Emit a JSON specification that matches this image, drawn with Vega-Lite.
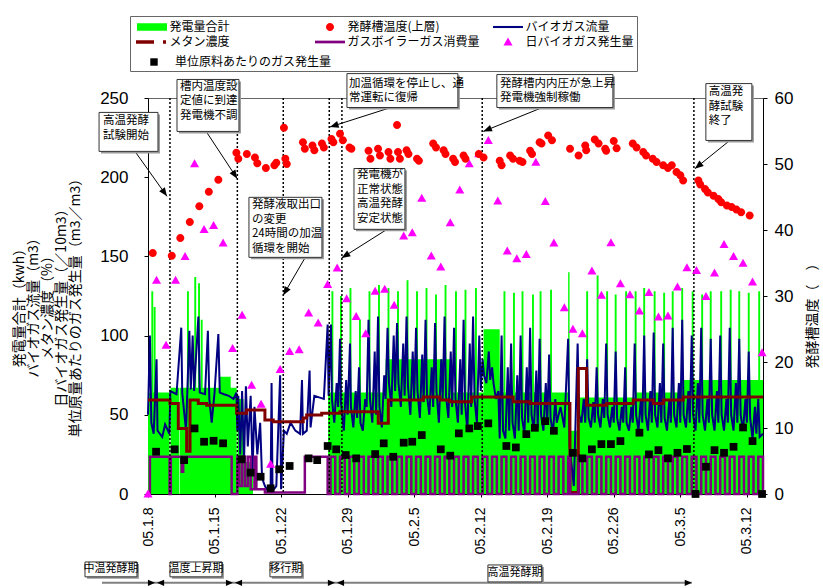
{
 "$schema": "https://vega.github.io/schema/vega-lite/v6.json",
 "width": 615, "height": 396,
 "autosize": {"type": "none"},
 "padding": {"left": 148, "top": 98, "right": 60, "bottom": 94},
 "background": "white",
 "config": {
  "view": {"stroke": "#666", "strokeWidth": 1},
  "axis": {"labelFont": "Liberation Sans", "labelColor": "#000", "domainColor": "#000", "tickColor": "#000", "grid": false, "titleFont": "Noto Sans CJK JP", "titleFontWeight": "normal", "titleColor": "#000", "labelFlush": false, "labelOverlap": false},
  "text": {"font": "Noto Sans CJK JP"}
 },
 "datasets": {
  "green": [{"d":0,"v":64},{"d":0.35,"v":128},{"d":0.55,"v":64},{"d":0.6,"v":118},{"d":0.8,"v":64},{"d":2.27,"v":0},{"d":2.37,"v":67},{"d":3.27,"v":0},{"d":3.33,"v":67},{"d":4.1,"v":128},{"d":4.3,"v":67},{"d":4.87,"v":137},{"d":5.07,"v":67},{"d":5.27,"v":133},{"d":5.47,"v":67},{"d":5.55,"v":110},{"d":5.75,"v":67},{"d":7.5,"v":74},{"d":8.7,"v":67},{"d":9.33,"v":0},{"d":9.42,"v":60},{"d":10.05,"v":20},{"d":11.05,"v":0},{"d":18.95,"v":64},
   {"d":19.3,"v":128},{"d":19.5,"v":64},{"d":20.2,"v":125},{"d":20.4,"v":64},{"d":21.2,"v":130},{"d":21.4,"v":64},{"d":22.2,"v":110},{"d":22.4,"v":64},{"d":23.2,"v":128},{"d":23.4,"v":64},{"d":24.2,"v":132},{"d":24.4,"v":64},{"d":25.0,"v":85},{"d":25.2,"v":130},{"d":25.4,"v":85},{"d":26.2,"v":128},{"d":26.4,"v":85},{"d":27.2,"v":135},{"d":27.4,"v":85},{"d":28.2,"v":128},{"d":28.4,"v":85},{"d":29.2,"v":130},{"d":29.4,"v":85},{"d":30.2,"v":126},{"d":30.4,"v":85},{"d":31.2,"v":132},{"d":31.4,"v":85},{"d":32.0,"v":64},{"d":32.3,"v":128},{"d":32.5,"v":64},{"d":33.3,"v":129},{"d":33.5,"v":64},{"d":34.4,"v":130},{"d":34.6,"v":64},{"d":35.3,"v":104},{"d":37.0,"v":64},{"d":37.4,"v":128},{"d":37.6,"v":64},{"d":38.4,"v":127},{"d":38.6,"v":64},{"d":39.3,"v":128},{"d":39.5,"v":64},{"d":40.4,"v":126},{"d":40.6,"v":64},{"d":41.2,"v":128},{"d":41.4,"v":64},{"d":42.3,"v":129},{"d":42.5,"v":64},{"d":44.2,"v":140},{"d":44.35,"v":40},{"d":45.3,"v":61},{"d":46.1,"v":128},{"d":46.3,"v":61},{"d":47.2,"v":138},{"d":47.4,"v":61},{"d":48.2,"v":128},{"d":48.4,"v":61},{"d":49.1,"v":126},{"d":49.3,"v":61},{"d":50.2,"v":128},{"d":50.4,"v":61},{"d":51.2,"v":128},{"d":51.4,"v":64},{"d":52.1,"v":130},{"d":52.3,"v":64},{"d":53.2,"v":128},{"d":53.4,"v":64},{"d":54.2,"v":127},{"d":54.4,"v":64},{"d":55.1,"v":128},{"d":55.3,"v":64},{"d":56.1,"v":130},{"d":56.3,"v":72},{"d":57.2,"v":128},{"d":57.4,"v":72},{"d":58.2,"v":126},{"d":58.4,"v":72},{"d":59.1,"v":128},{"d":59.3,"v":72},{"d":60.2,"v":128},{"d":60.4,"v":72},{"d":61.2,"v":129},{"d":61.4,"v":72},{"d":62.1,"v":128},{"d":62.3,"v":72},{"d":63.1,"v":127},{"d":63.3,"v":72},{"d":64.2,"v":128},{"d":64.4,"v":72},{"d":64.7,"v":72}],
  "navy": [{"d":0,"v":50},{"d":0.2,"v":100},{"d":0.35,"v":45},{"d":0.6,"v":38},{"d":0.9,"v":85},{"d":1.0,"v":40},{"d":1.5,"v":36},{"d":1.8,"v":44},{"d":2.25,"v":38},{"d":2.35,"v":65},{"d":3.0,"v":63},{"d":3.5,"v":105},{"d":3.6,"v":64},{"d":4.0,"v":40},{"d":4.35,"v":103},{"d":4.5,"v":66},{"d":4.7,"v":100},{"d":4.85,"v":65},{"d":5.3,"v":112},{"d":5.45,"v":64},{"d":6.0,"v":63},{"d":6.3,"v":103},{"d":6.45,"v":60},{"d":6.7,"v":45},{"d":7.0,"v":64},{"d":7.4,"v":101},{"d":7.55,"v":64},{"d":8.0,"v":63},{"d":8.5,"v":62},{"d":9.0,"v":60},{"d":9.3,"v":64},{"d":9.4,"v":40},{"d":9.5,"v":62},{"d":9.7,"v":25},{"d":9.9,"v":65},{"d":10.1,"v":20},{"d":10.3,"v":68},{"d":10.5,"v":30},{"d":10.8,"v":62},{"d":11.0,"v":15},{"d":11.2,"v":55},{"d":11.5,"v":25},{"d":11.8,"v":45},{"d":12.0,"v":10},{"d":12.3,"v":5},{"d":12.6,"v":2},{"d":12.9,"v":3},{"d":13.0,"v":70},{"d":13.1,"v":2},{"d":13.5,"v":5},{"d":13.9,"v":75},{"d":14.0,"v":3},{"d":14.3,"v":40},{"d":14.6,"v":38},{"d":15.0,"v":45},{"d":15.5,"v":40},{"d":16.0,"v":38},{"d":16.2,"v":72},{"d":16.3,"v":38},{"d":16.7,"v":40},{"d":17.0,"v":78},{"d":17.1,"v":42},{"d":17.5,"v":62},{"d":18.0,"v":61},{"d":18.5,"v":60},{"d":18.9,"v":107},{"d":19.0,"v":62},
   {"d":19.25,"v":107},{"d":19.35,"v":60},{"d":19.6,"v":45},{"d":19.85,"v":70},{"d":20.0,"v":55},{"d":20.2,"v":98},{"d":20.3,"v":58},{"d":20.6,"v":40},{"d":20.85,"v":72},{"d":21.0,"v":50},{"d":21.25,"v":95},{"d":21.35,"v":55},{"d":21.6,"v":42},{"d":21.85,"v":65},{"d":22.0,"v":48},{"d":22.2,"v":80},{"d":22.35,"v":45},{"d":22.6,"v":40},{"d":22.85,"v":60},{"d":23.0,"v":55},{"d":23.2,"v":110},{"d":23.35,"v":60},{"d":23.6,"v":45},{"d":23.85,"v":90},{"d":24.0,"v":50},{"d":24.2,"v":112},{"d":24.35,"v":55},{"d":24.6,"v":42},{"d":24.85,"v":75},{"d":25.0,"v":60},{"d":25.2,"v":105},{"d":25.35,"v":70},{"d":25.6,"v":55},{"d":25.85,"v":100},{"d":26.0,"v":65},{"d":26.2,"v":108},{"d":26.35,"v":70},{"d":26.6,"v":55},{"d":26.85,"v":95},{"d":27.0,"v":62},{"d":27.2,"v":112},{"d":27.35,"v":68},{"d":27.6,"v":50},{"d":27.85,"v":90},{"d":28.0,"v":60},{"d":28.2,"v":105},{"d":28.35,"v":65},{"d":28.6,"v":48},{"d":28.85,"v":88},{"d":29.0,"v":58},{"d":29.2,"v":110},{"d":29.35,"v":62},{"d":29.6,"v":50},{"d":29.85,"v":80},{"d":30.0,"v":55},{"d":30.2,"v":108},{"d":30.35,"v":65},{"d":30.6,"v":45},{"d":30.85,"v":85},{"d":31.0,"v":60},{"d":31.2,"v":112},{"d":31.35,"v":62},{"d":31.6,"v":48},{"d":31.85,"v":90},{"d":32.0,"v":55},{"d":32.2,"v":105},{"d":32.35,"v":60},{"d":32.6,"v":45},{"d":32.85,"v":85},{"d":33.0,"v":50},{"d":33.2,"v":110},{"d":33.35,"v":58},{"d":33.6,"v":40},{"d":33.85,"v":95},{"d":34.0,"v":55},{"d":34.2,"v":112},{"d":34.35,"v":60},{"d":34.6,"v":45},{"d":34.85,"v":100},{"d":35.0,"v":65},{"d":35.2,"v":85},{"d":35.35,"v":75},{"d":35.6,"v":70},{"d":35.85,"v":90},{"d":36.0,"v":72},{"d":36.2,"v":80},{"d":36.35,"v":70},{"d":36.6,"v":60},{"d":36.85,"v":65},{"d":37.0,"v":35},{"d":37.2,"v":100},{"d":37.35,"v":40},{"d":37.6,"v":35},{"d":37.85,"v":80},{"d":38.0,"v":40},{"d":38.2,"v":95},{"d":38.35,"v":45},{"d":38.6,"v":35},{"d":38.85,"v":75},{"d":39.0,"v":40},{"d":39.2,"v":100},{"d":39.35,"v":48},{"d":39.6,"v":38},{"d":39.85,"v":80},{"d":40.0,"v":45},{"d":40.2,"v":105},{"d":40.35,"v":50},{"d":40.6,"v":40},{"d":40.85,"v":78},{"d":41.0,"v":42},{"d":41.2,"v":98},{"d":41.35,"v":50},{"d":41.6,"v":40},{"d":41.85,"v":70},{"d":42.0,"v":45},{"d":42.2,"v":88},{"d":42.35,"v":48},{"d":42.6,"v":38},{"d":42.85,"v":60},{"d":43.0,"v":45},{"d":43.4,"v":55},{"d":43.8,"v":42},{"d":44.2,"v":98},{"d":44.35,"v":30},{"d":44.8,"v":5},{"d":45.2,"v":95},{"d":45.35,"v":50},{"d":45.6,"v":45},{"d":45.85,"v":60},{"d":46.0,"v":45},{"d":46.2,"v":85},{"d":46.35,"v":48},{"d":46.6,"v":42},{"d":46.85,"v":58},{"d":47.0,"v":45},{"d":47.2,"v":80},{"d":47.35,"v":50},{"d":47.6,"v":42},{"d":47.85,"v":60},{"d":48.0,"v":48},{"d":48.2,"v":95},{"d":48.35,"v":50},{"d":48.6,"v":42},{"d":48.85,"v":55},{"d":49.0,"v":45},{"d":49.2,"v":90},{"d":49.35,"v":48},{"d":49.6,"v":40},{"d":49.85,"v":55},{"d":50.0,"v":45},{"d":50.2,"v":80},{"d":50.35,"v":45},{"d":50.6,"v":40},{"d":50.85,"v":55},{"d":51.0,"v":45},{"d":51.2,"v":95},{"d":51.35,"v":50},{"d":51.6,"v":40},{"d":51.85,"v":60},{"d":52.0,"v":45},{"d":52.2,"v":100},{"d":52.35,"v":50},{"d":52.6,"v":40},{"d":52.85,"v":65},{"d":53.0,"v":45},{"d":53.2,"v":102},{"d":53.35,"v":50},{"d":53.6,"v":42},{"d":53.85,"v":70},{"d":54.0,"v":45},{"d":54.2,"v":95},{"d":54.35,"v":48},{"d":54.6,"v":40},{"d":54.85,"v":60},{"d":55.0,"v":45},{"d":55.2,"v":105},{"d":55.35,"v":50},{"d":55.6,"v":42},{"d":55.85,"v":70},{"d":56.0,"v":45},{"d":56.2,"v":110},{"d":56.35,"v":50},{"d":56.6,"v":42},{"d":56.85,"v":65},{"d":57.0,"v":45},{"d":57.2,"v":100},{"d":57.35,"v":50},{"d":57.6,"v":40},{"d":57.85,"v":70},{"d":58.0,"v":45},{"d":58.2,"v":105},{"d":58.35,"v":50},{"d":58.6,"v":40},{"d":58.85,"v":60},{"d":59.0,"v":45},{"d":59.2,"v":98},{"d":59.35,"v":50},{"d":59.6,"v":40},{"d":59.85,"v":65},{"d":60.0,"v":45},{"d":60.2,"v":100},{"d":60.35,"v":50},{"d":60.6,"v":40},{"d":60.85,"v":60},{"d":61.0,"v":45},{"d":61.2,"v":105},{"d":61.35,"v":50},{"d":61.6,"v":40},{"d":61.85,"v":70},{"d":62.0,"v":45},{"d":62.2,"v":98},{"d":62.35,"v":50},{"d":62.6,"v":40},{"d":62.85,"v":60},{"d":63.0,"v":45},{"d":63.2,"v":90},{"d":63.35,"v":48},{"d":63.6,"v":35},{"d":63.85,"v":55},{"d":64.0,"v":38},{"d":64.2,"v":60},{"d":64.35,"v":36},{"d":64.7,"v":38}],
  "meth": [{"d":0,"v":59.3},{"d":2.31,"v":57.2},{"d":3.19,"v":41.4},{"d":4.07,"v":27},{"d":4.42,"v":59.3},{"d":5.29,"v":57.2},{"d":6.17,"v":56.1},{"d":9.33,"v":50.9},{"d":10.38,"v":53},{"d":12.3,"v":46.7},{"d":13.18,"v":45.6},{"d":16.33,"v":48},{"d":16.69,"v":49.8},{"d":18.27,"v":50.9},{"d":20.19,"v":51.9},{"d":24.22,"v":44.6},{"d":25.28,"v":59.3},{"d":28.96,"v":61.3},{"d":30.71,"v":59.3},{"d":31.76,"v":58.2},{"d":34.04,"v":61.3},{"d":38.42,"v":58.2},{"d":40.18,"v":57.2},{"d":44.39,"v":1},{"d":45.27,"v":79.2},{"d":46.14,"v":56.1},{"d":48.25,"v":57.2},{"d":51.05,"v":59.3},{"d":53.16,"v":57.2},{"d":54.21,"v":59.3},{"d":56.31,"v":61.3},{"d":64.7,"v":61.3}],
  "purp": [{"d":0,"v":0},{"d":0.2,"v":23.5},{"d":2.27,"v":0},{"d":2.4,"v":23.5},{"d":3.55,"v":14},{"d":3.7,"v":23.5},{"d":8.8,"v":0},{"d":9.4,"v":23.5},{"d":9.6,"v":5},{"d":9.9,"v":23.5},{"d":10.2,"v":5},{"d":10.5,"v":23.5},{"d":10.8,"v":3},{"d":11.2,"v":23.5},{"d":11.4,"v":3},{"d":12.3,"v":1},{"d":16.5,"v":23.5},{"d":18.9,"v":0},{"d":19.2,"v":23.5},{"d":19.7,"v":0},{"d":20.2,"v":23.5},{"d":20.7,"v":0},{"d":21.2,"v":23.5},{"d":21.7,"v":0},{"d":22.2,"v":23.5},{"d":22.7,"v":0},{"d":23.2,"v":23.5},{"d":23.7,"v":0},{"d":24.2,"v":23.5},{"d":24.7,"v":0},{"d":25.2,"v":23.5},{"d":25.7,"v":0},{"d":26.2,"v":23.5},{"d":26.7,"v":0},{"d":27.2,"v":23.5},{"d":27.7,"v":0},{"d":28.2,"v":23.5},{"d":28.7,"v":0},{"d":29.2,"v":23.5},{"d":29.7,"v":0},{"d":30.2,"v":23.5},{"d":30.7,"v":0},{"d":31.2,"v":23.5},{"d":31.7,"v":0},{"d":32.2,"v":23.5},{"d":32.7,"v":0},{"d":33.2,"v":23.5},{"d":33.7,"v":0},{"d":34.2,"v":23.5},{"d":34.7,"v":0},{"d":35.2,"v":23.5},{"d":35.7,"v":0},{"d":36.2,"v":23.5},{"d":36.7,"v":0},{"d":37.2,"v":23.5},{"d":37.7,"v":0},{"d":38.2,"v":23.5},{"d":38.7,"v":0},{"d":39.2,"v":23.5},{"d":39.7,"v":0},{"d":40.2,"v":23.5},{"d":40.7,"v":0},{"d":41.2,"v":23.5},{"d":41.7,"v":0},{"d":42.2,"v":23.5},{"d":42.7,"v":0},{"d":43.2,"v":23.5},{"d":43.7,"v":0},{"d":44.2,"v":23.5},{"d":44.4,"v":0},{"d":45.3,"v":23.5},{"d":45.7,"v":0},{"d":46.2,"v":23.5},{"d":46.7,"v":0},{"d":47.2,"v":23.5},{"d":47.7,"v":0},{"d":48.2,"v":23.5},{"d":48.7,"v":0},{"d":49.2,"v":23.5},{"d":49.7,"v":0},{"d":50.2,"v":23.5},{"d":50.7,"v":0},{"d":51.2,"v":23.5},{"d":51.7,"v":0},{"d":52.2,"v":23.5},{"d":52.7,"v":0},{"d":53.2,"v":23.5},{"d":53.7,"v":0},{"d":54.2,"v":23.5},{"d":54.7,"v":0},{"d":55.2,"v":23.5},{"d":55.7,"v":0},{"d":56.2,"v":23.5},{"d":56.7,"v":0},{"d":57.2,"v":23.5},{"d":57.7,"v":0},{"d":58.2,"v":23.5},{"d":58.7,"v":0},{"d":59.2,"v":23.5},{"d":59.7,"v":0},{"d":60.2,"v":23.5},{"d":60.7,"v":0},{"d":61.2,"v":23.5},{"d":61.7,"v":0},{"d":62.2,"v":23.5},{"d":62.7,"v":0},{"d":63.2,"v":23.5},{"d":63.7,"v":0},{"d":64.2,"v":23.5},{"d":64.7,"v":0}],
  "temp": [{"d":0.5,"v":36.5},{"d":2.5,"v":36.1},{"d":3.4,"v":38.8},{"d":4.4,"v":41.2},{"d":5.4,"v":43.6},{"d":6.4,"v":45.8},{"d":7.4,"v":47.6},{"d":9.3,"v":51.7},{"d":9.5,"v":50.8},{"d":10.4,"v":51.5},{"d":11.25,"v":51},{"d":11.5,"v":50.1},{"d":12.4,"v":49.4},{"d":13.3,"v":49.8},{"d":13.5,"v":50.2},{"d":14.3,"v":55.5},{"d":14.45,"v":50.8},{"d":14.6,"v":50},{"d":16.3,"v":53.3},{"d":16.5,"v":52.3},{"d":17.3,"v":52.8},{"d":17.5,"v":52.1},{"d":18.3,"v":53.1},{"d":18.5,"v":52.5},{"d":19.3,"v":53.8},{"d":19.5,"v":53.3},{"d":20.2,"v":54.6},{"d":20.5,"v":53.6},{"d":21.2,"v":52.5},{"d":21.4,"v":52.3},{"d":23.2,"v":52},{"d":23.4,"v":50.8},{"d":24.2,"v":52.3},{"d":24.4,"v":51.3},{"d":25.3,"v":51.8},{"d":25.5,"v":50.8},{"d":26.2,"v":55.9},{"d":26.3,"v":51.8},{"d":26.5,"v":50.8},{"d":27.2,"v":52.1},{"d":27.4,"v":51.5},{"d":28.3,"v":50.8},{"d":28.5,"v":50.5},{"d":30.0,"v":53.1},{"d":30.3,"v":52.5},{"d":31.1,"v":52.1},{"d":31.3,"v":51.5},{"d":32.1,"v":50.8},{"d":32.3,"v":50.3},{"d":33.2,"v":51.3},{"d":33.4,"v":50.8},{"d":34.8,"v":51.5},{"d":35.3,"v":51},{"d":37.0,"v":50.5},{"d":37.2,"v":49.8},{"d":38.1,"v":51.3},{"d":38.4,"v":50.8},{"d":39.1,"v":50.5},{"d":39.4,"v":50.3},{"d":40.2,"v":52},{"d":40.4,"v":51.5},{"d":41.2,"v":53.3},{"d":41.4,"v":53.1},{"d":42.1,"v":54.3},{"d":42.5,"v":53.6},{"d":44.4,"v":52.3},{"d":45.3,"v":51.3},{"d":46.0,"v":52.8},{"d":46.1,"v":52.1},{"d":47.0,"v":53.7},{"d":47.4,"v":53.1},{"d":48.1,"v":52.3},{"d":48.2,"v":52},{"d":49.0,"v":53.5},{"d":49.3,"v":52.4},{"d":51.0,"v":53.1},{"d":51.4,"v":52.5},{"d":52.1,"v":51.8},{"d":52.4,"v":51.3},{"d":53.1,"v":50.8},{"d":53.5,"v":50.3},{"d":54.2,"v":49.8},{"d":54.7,"v":49.4},{"d":55.1,"v":49.8},{"d":55.6,"v":48.8},{"d":56.0,"v":48.3},{"d":56.3,"v":47.5},{"d":57.9,"v":47.5},{"d":58.1,"v":46.9},{"d":58.6,"v":46.2},{"d":58.9,"v":45.7},{"d":59.5,"v":45.2},{"d":60.0,"v":44.7},{"d":60.3,"v":44.2},{"d":60.9,"v":43.7},{"d":61.4,"v":43.5},{"d":61.9,"v":43.1},{"d":62.4,"v":42.7},{"d":63.3,"v":42.2}],
  "tri": [{"d":0,"v":0},{"d":0.9,"v":135},{"d":1.9,"v":94},{"d":2.9,"v":135},{"d":3.9,"v":150},{"d":4.9,"v":208.5},{"d":5.9,"v":167},{"d":6.9,"v":169.6},{"d":7.9,"v":158.5},{"d":8.9,"v":91.9},{"d":9.9,"v":112.9},{"d":10.9,"v":68.7},{"d":11.9,"v":56.7},{"d":12.9,"v":18.9},{"d":13.9,"v":78.6},{"d":14.9,"v":90},{"d":15.9,"v":91.2},{"d":16.9,"v":114.3},{"d":17.9,"v":108},{"d":18.9,"v":132.4},{"d":19.9,"v":142.7},{"d":20.9,"v":123.4},{"d":21.9,"v":112.2},{"d":22.9,"v":101.3},{"d":23.9,"v":128},{"d":24.9,"v":129.3},{"d":25.9,"v":119.2},{"d":26.9,"v":162.9},{"d":27.8,"v":165},{"d":28.8,"v":186.8},{"d":29.8,"v":150.3},{"d":30.8,"v":143.3},{"d":31.8,"v":171.3},{"d":32.8,"v":192},{"d":33.8,"v":208.5},{"d":34.8,"v":214.8},{"d":35.8,"v":223.2},{"d":36.8,"v":185},{"d":37.8,"v":153.4},{"d":38.8,"v":148.6},{"d":39.8,"v":151.3},{"d":40.8,"v":209.5},{"d":41.8,"v":184.7},{"d":42.7,"v":158.5},{"d":43.8,"v":117.7},{"d":44.7,"v":104},{"d":45.7,"v":101.3},{"d":46.7,"v":140.8},{"d":47.7,"v":125.5},{"d":48.7,"v":158.7},{"d":49.7,"v":132.8},{"d":50.7,"v":125.9},{"d":51.7,"v":115.6},{"d":52.7,"v":127.2},{"d":53.7,"v":111.8},{"d":54.7,"v":112.4},{"d":55.7,"v":130.7},{"d":56.7,"v":142.9},{"d":57.7,"v":141.2},{"d":58.7,"v":124.8},{"d":59.6,"v":139.6},{"d":60.6,"v":157.6},{"d":61.6,"v":150},{"d":62.6,"v":145.8},{"d":63.6,"v":133.9},{"d":64.6,"v":89.3}],
  "sq": [{"d":0.85,"v":26.7},{"d":2.8,"v":28.2},{"d":3.8,"v":21.4},{"d":4.9,"v":41.4},{"d":5.9,"v":33},{"d":6.9,"v":33.6},{"d":7.9,"v":32},{"d":9.85,"v":21.9},{"d":10.8,"v":13.5},{"d":11.85,"v":10.9},{"d":12.9,"v":3.6},{"d":13.8,"v":15.6},{"d":14.9,"v":17.7},{"d":16.9,"v":22.5},{"d":17.8,"v":21.4},{"d":18.9,"v":30.3},{"d":19.8,"v":28.2},{"d":20.8,"v":24.6},{"d":21.9,"v":22.5},{"d":23.9,"v":25.2},{"d":24.8,"v":32},{"d":25.8,"v":23.5},{"d":26.9,"v":32.4},{"d":27.8,"v":33},{"d":28.8,"v":37.2},{"d":30.8,"v":28.2},{"d":31.8,"v":24.2},{"d":32.7,"v":38.3},{"d":33.8,"v":41.4},{"d":34.7,"v":42.9},{"d":35.8,"v":44.6},{"d":37.7,"v":30.3},{"d":38.7,"v":29.4},{"d":39.8,"v":37.8},{"d":40.7,"v":41.8},{"d":41.8,"v":46},{"d":42.7,"v":39.9},{"d":44.7,"v":26},{"d":45.7,"v":22.5},{"d":46.7,"v":28.2},{"d":47.7,"v":31.5},{"d":48.7,"v":31.5},{"d":49.7,"v":33.4},{"d":51.7,"v":38.7},{"d":52.7,"v":25},{"d":53.7,"v":27.7},{"d":54.7,"v":22.5},{"d":55.7,"v":26},{"d":56.7,"v":28.4},{"d":57.6,"v":0},{"d":58.7,"v":17.2},{"d":59.6,"v":27.7},{"d":60.6,"v":26},{"d":61.6,"v":29.8},{"d":62.6,"v":42},{"d":63.6,"v":33.4},{"d":64.6,"v":0}],
  "vlines": [{"d":2.31},{"d":9.4},{"d":14.23},{"d":19.07},{"d":20.4},{"d":35.16},{"d":57.43}],
  "boxes": [{"x1":-5.15,"x2":1.05,"y1":240.9,"y2":216.3},{"x1":3.05,"x2":9.57,"y1":261.7,"y2":228.9},{"x1":10.62,"x2":18.3,"y1":187.3,"y2":149.4},{"x1":20.93,"x2":32.6,"y1":265.4,"y2":244},{"x1":21.67,"x2":27.03,"y1":205.5,"y2":167.1},{"x1":36.7,"x2":48.91,"y1":264.8,"y2":244},{"x1":58.69,"x2":63.53,"y1":259.1,"y2":223.2}],
  "texts": [{"d":-4.73,"v":239,"t":"高温発酵\n試験開始"},{"d":3.37,"v":261,"t":"槽内温度設\n定値に到達\n発電機不調"},{"d":10.94,"v":186,"t":"発酵液取出口\nの変更\n24時間の加温\n循環を開始"},{"d":21.14,"v":262.9,"t":"加温循環を停止し、通\n常運転に復帰"},{"d":21.98,"v":204.9,"t":"発電機が\n正常状態\n高温発酵\n安定状態"},{"d":37.02,"v":262.9,"t":"発酵槽内内圧が急上昇\n発電機強制稼働"},{"d":59.0,"v":257.3,"t":"高温発\n酵試験\n終了"}],
  "arrows": [{"d1":-1.37,"v1":216.3,"d2":2.0,"v2":187.9,"a":144.6},{"d1":6.17,"v1":228.4,"d2":9.39,"v2":199.1,"a":146.7},{"d1":16.51,"v1":149,"d2":14.23,"v2":125.5,"a":210.2},{"d1":25.45,"v1":243.8,"d2":19.14,"v2":231.7,"a":252.4},{"d1":25.1,"v1":166.9,"d2":20.37,"v2":149,"a":237.7},{"d1":41.41,"v1":243.8,"d2":35.27,"v2":228.9,"a":247.9},{"d1":61.21,"v1":223.2,"d2":57.53,"v2":205.4,"a":231.1}],
  "pline": [{"d1":-4.84,"d2":57.21,"v":-56.1}],
  "pheads": [{"d":0.74,"v":-56.1,"a":90},{"d":0.95,"v":-56.1,"a":270},{"d":8.94,"v":-56.1,"a":90},{"d":9.15,"v":-56.1,"a":270},{"d":19.67,"v":-56.1,"a":90},{"d":19.88,"v":-56.1,"a":270},{"d":57.21,"v":-56.1,"a":90}],
  "pboxes": [{"x1":-6.63,"x2":-1.16,"y1":-42.9,"y2":-52.3,"xc":-3.9,"yc":-47.6,"t":"中温発酵期"},{"x1":2.31,"x2":7.78,"y1":-42.9,"y2":-52.3,"xc":5.05,"yc":-47.6,"t":"温度上昇期"},{"x1":12.83,"x2":16.2,"y1":-42.9,"y2":-52.3,"xc":14.5,"yc":-47.6,"t":"移行期"},{"x1":35.76,"x2":41.44,"y1":-44.8,"y2":-55.5,"xc":38.6,"yc":-50.1,"t":"高温発酵期"}]
 },
 "layer": [
  {
   "layer": [
    {"data": {"name": "green"}, "mark": {"type": "area", "opacity": 1, "interpolate": "step-after"},
     "encoding": {
      "x": {"field": "d", "type": "quantitative", "scale": {"domain": [0, 64.7], "nice": false, "zero": false},
          "axis": {"values": [0,7,14,21,28,35,42,49,56,63], "labelExpr": "['05.1.8','05.1.15','05.1.22','05.1.29','05.2.5','05.2.12','05.2.19','05.2.26','05.3.5','05.3.12'][round(datum.value/7)]", "labelAngle": 270, "labelFontSize": 14, "tickSize": 3, "labelPadding": 10, "title": null}},
      "y": {"field": "v", "type": "quantitative", "scale": {"domain": [0, 250], "nice": false, "zero": false},
          "axis": {"values": [0,50,100,150,200,250], "labelFontSize": 17, "tickSize": 4, "labelPadding": 16,
                   "title": ["発電量合計（kwh）", "バイオガス流量（m3）", "メタン濃度（%）", "日バイオガス発生量（／10m3）", "単位原量あたりのガス発生量（m3／m3）"],
                   "titleFontSize": 14, "titleLineHeight": 14, "titleAngle": 270, "titleX": -129, "titleY": 206, "titleAlign": "center", "titleBaseline": "middle"}},
      "color": {"datum": "発電量合計", "type": "nominal",
       "scale": {"domain": ["発電量合計","発酵槽温度(上層)","バイオガス流量","メタン濃度","ガスボイラーガス消費量","日バイオガス発生量"], "range": ["#00ff00","#ff0000","#000080","#800000","#800080","#ff00ff"]},
       "legend": {"title": "　　　　　　　　　　　　　　　　　　　　　　　　　　　　　　　　　　　　　　　　　", "titleOrient": "bottom", "titleFontSize": 15, "titlePadding": 5, "titleLimit": 2000,
         "orient": "none", "legendX": -18, "legendY": -82, "direction": "horizontal", "columns": 3, "gridAlign": "all",
         "symbolSize": 256, "symbolStrokeWidth": 0, "symbolOpacity": 1,
         "labelFont": "Noto Sans CJK JP", "labelFontSize": 12, "labelColor": "#000", "labelOffset": 20.5, "labelLimit": 400,
         "columnPadding": 9, "rowPadding": 1, "padding": 3, "strokeColor": "#666", "fillColor": "white"}}}},
    {"data": {"name": "navy"}, "mark": {"type": "line", "strokeWidth": 2},
     "encoding": {"x": {"field": "d", "type": "quantitative", "scale": {"domain": [0, 64.7], "nice": false, "zero": false}}, "y": {"field": "v", "type": "quantitative", "scale": {"domain": [0, 250], "nice": false, "zero": false}},
      "color": {"datum": "バイオガス流量", "type": "nominal", "scale": {"domain": ["発電量合計","発酵槽温度(上層)","バイオガス流量","メタン濃度","ガスボイラーガス消費量","日バイオガス発生量"], "range": ["#00ff00","#ff0000","#000080","#800000","#800080","#ff00ff"]}}}},
    {"data": {"name": "meth"}, "mark": {"type": "line", "strokeWidth": 3, "interpolate": "step-after"},
     "encoding": {"x": {"field": "d", "type": "quantitative", "scale": {"domain": [0, 64.7], "nice": false, "zero": false}}, "y": {"field": "v", "type": "quantitative", "scale": {"domain": [0, 250], "nice": false, "zero": false}},
      "color": {"datum": "メタン濃度", "type": "nominal", "scale": {"domain": ["発電量合計","発酵槽温度(上層)","バイオガス流量","メタン濃度","ガスボイラーガス消費量","日バイオガス発生量"], "range": ["#00ff00","#ff0000","#000080","#800000","#800080","#ff00ff"]}}}},
    {"data": {"name": "purp"}, "mark": {"type": "line", "strokeWidth": 2.5, "interpolate": "step-after"},
     "encoding": {"x": {"field": "d", "type": "quantitative", "scale": {"domain": [0, 64.7], "nice": false, "zero": false}}, "y": {"field": "v", "type": "quantitative", "scale": {"domain": [0, 250], "nice": false, "zero": false}},
      "color": {"datum": "ガスボイラーガス消費量", "type": "nominal", "scale": {"domain": ["発電量合計","発酵槽温度(上層)","バイオガス流量","メタン濃度","ガスボイラーガス消費量","日バイオガス発生量"], "range": ["#00ff00","#ff0000","#000080","#800000","#800080","#ff00ff"]}}}},
    {"data": {"name": "vlines"}, "mark": {"type": "rule", "color": "#000", "strokeWidth": 1.5, "strokeDash": [2, 2]},
     "encoding": {"x": {"field": "d", "type": "quantitative", "scale": {"domain": [0, 64.7], "nice": false, "zero": false}}}},
    {"data": {"name": "sq"}, "mark": {"type": "point", "shape": "square", "filled": true, "size": 60, "opacity": 1},
     "encoding": {"x": {"field": "d", "type": "quantitative", "scale": {"domain": [0, 64.7], "nice": false, "zero": false}}, "y": {"field": "v", "type": "quantitative", "scale": {"domain": [0, 250], "nice": false, "zero": false}},
      "fill": {"datum": "単位原料あたりのガス発生量", "type": "nominal", "scale": {"range": ["#000000"]},
       "legend": {"title": null, "orient": "none", "legendX": 0, "legendY": -42, "symbolSize": 55, "symbolType": "square", "symbolOpacity": 1,
         "labelFont": "Noto Sans CJK JP", "labelFontSize": 12, "labelColor": "#000", "labelOffset": 15, "labelLimit": 400, "padding": 0}}}},
    {"data": {"name": "tri"}, "mark": {"type": "point", "filled": true, "size": 256, "opacity": 1, "xOffset": -11},
     "encoding": {"x": {"field": "d", "type": "quantitative", "scale": {"domain": [0, 64.7], "nice": false, "zero": false}}, "y": {"field": "v", "type": "quantitative", "scale": {"domain": [0, 250], "nice": false, "zero": false}},
      "color": {"datum": "日バイオガス発生量", "type": "nominal", "scale": {"domain": ["発電量合計","発酵槽温度(上層)","バイオガス流量","メタン濃度","ガスボイラーガス消費量","日バイオガス発生量"], "range": ["#00ff00","#ff0000","#000080","#800000","#800080","#ff00ff"]}},
      "shape": {"datum": "日バイオガス発生量", "type": "nominal", "scale": {"domain": ["発電量合計","発酵槽温度(上層)","バイオガス流量","メタン濃度","ガスボイラーガス消費量","日バイオガス発生量"], "range": ["M-0.5,-0.47H3.25V0.47H-0.5Z","M1.875,0A0.5,0.5,0,1,1,0.875,0A0.5,0.5,0,1,1,1.875,0Z","M-0.5,-0.13H3.25V0.13H-0.5Z","M-0.625,-0.22H1.625V0.22H-0.625ZM2.75,-0.22H3.125V0.22H2.75Z","M-0.5,-0.17H3.25V0.17H-0.5Z","M1.375,-0.55L1.94,0.45L0.81,0.45Z"]}}}},
    {"data": {"name": "arrows"}, "mark": {"type": "rule", "color": "#000", "strokeWidth": 1},
     "encoding": {"x": {"field": "d1", "type": "quantitative", "scale": {"domain": [0, 64.7], "nice": false, "zero": false}}, "x2": {"field": "d2"}, "y": {"field": "v1", "type": "quantitative", "scale": {"domain": [0, 250], "nice": false, "zero": false}}, "y2": {"field": "v2"}}},
    {"data": {"name": "arrows"}, "mark": {"type": "point", "shape": "M0,0L0.4,1L-0.4,1Z", "filled": true, "size": 300, "color": "#000", "opacity": 1},
     "encoding": {"x": {"field": "d2", "type": "quantitative", "scale": {"domain": [0, 64.7], "nice": false, "zero": false}}, "y": {"field": "v2", "type": "quantitative", "scale": {"domain": [0, 250], "nice": false, "zero": false}}, "angle": {"field": "a", "type": "quantitative", "scale": null}}},
    {"data": {"name": "boxes"}, "mark": {"type": "rect", "fill": "#999", "xOffset": 2, "x2Offset": 2, "yOffset": 2, "y2Offset": 2},
     "encoding": {"x": {"field": "x1", "type": "quantitative", "scale": {"domain": [0, 64.7], "nice": false, "zero": false}}, "x2": {"field": "x2"}, "y": {"field": "y1", "type": "quantitative", "scale": {"domain": [0, 250], "nice": false, "zero": false}}, "y2": {"field": "y2"}}},
    {"data": {"name": "boxes"}, "mark": {"type": "rect", "fill": "white", "stroke": "#333", "strokeWidth": 1},
     "encoding": {"x": {"field": "x1", "type": "quantitative", "scale": {"domain": [0, 64.7], "nice": false, "zero": false}}, "x2": {"field": "x2"}, "y": {"field": "y1", "type": "quantitative", "scale": {"domain": [0, 250], "nice": false, "zero": false}}, "y2": {"field": "y2"}}},
    {"data": {"name": "texts"}, "mark": {"type": "text", "align": "left", "baseline": "top", "fontSize": 11.5, "lineHeight": 14.5, "lineBreak": "\n", "color": "#000", "font": "Noto Sans CJK JP"},
     "encoding": {"text": {"field": "t"}, "x": {"field": "d", "type": "quantitative", "scale": {"domain": [0, 64.7], "nice": false, "zero": false}}, "y": {"field": "v", "type": "quantitative", "scale": {"domain": [0, 250], "nice": false, "zero": false}}}},
    {"data": {"name": "pline"}, "mark": {"type": "rule", "color": "#808080", "strokeWidth": 2},
     "encoding": {"x": {"field": "d1", "type": "quantitative", "scale": {"domain": [0, 64.7], "nice": false, "zero": false}}, "x2": {"field": "d2"}, "y": {"field": "v", "type": "quantitative", "scale": {"domain": [0, 250], "nice": false, "zero": false}}}},
    {"data": {"name": "pheads"}, "mark": {"type": "point", "shape": "M0,0L0.45,1L-0.45,1Z", "filled": true, "size": 200, "color": "#000", "opacity": 1},
     "encoding": {"x": {"field": "d", "type": "quantitative", "scale": {"domain": [0, 64.7], "nice": false, "zero": false}}, "y": {"field": "v", "type": "quantitative", "scale": {"domain": [0, 250], "nice": false, "zero": false}}, "angle": {"field": "a", "type": "quantitative", "scale": null}}},
    {"data": {"name": "pboxes"}, "mark": {"type": "rect", "fill": "#999", "xOffset": 2, "x2Offset": 2, "yOffset": 2, "y2Offset": 2},
     "encoding": {"x": {"field": "x1", "type": "quantitative", "scale": {"domain": [0, 64.7], "nice": false, "zero": false}}, "x2": {"field": "x2"}, "y": {"field": "y1", "type": "quantitative", "scale": {"domain": [0, 250], "nice": false, "zero": false}}, "y2": {"field": "y2"}}},
    {"data": {"name": "pboxes"}, "mark": {"type": "rect", "fill": "white", "stroke": "#333", "strokeWidth": 1},
     "encoding": {"x": {"field": "x1", "type": "quantitative", "scale": {"domain": [0, 64.7], "nice": false, "zero": false}}, "x2": {"field": "x2"}, "y": {"field": "y1", "type": "quantitative", "scale": {"domain": [0, 250], "nice": false, "zero": false}}, "y2": {"field": "y2"}}},
    {"data": {"name": "pboxes"}, "mark": {"type": "text", "align": "center", "baseline": "middle", "fontSize": 11, "color": "#000", "font": "Noto Sans CJK JP"},
     "encoding": {"text": {"field": "t"}, "x": {"field": "xc", "type": "quantitative", "scale": {"domain": [0, 64.7], "nice": false, "zero": false}}, "y": {"field": "yc", "type": "quantitative", "scale": {"domain": [0, 250], "nice": false, "zero": false}}}}
   ]
  },
  {
   "data": {"name": "temp"},
   "mark": {"type": "point", "filled": true, "size": 256, "opacity": 1, "xOffset": -11},
   "encoding": {
    "x": {"field": "d", "type": "quantitative", "scale": {"domain": [0, 64.7], "nice": false, "zero": false}},
    "y": {"field": "v", "type": "quantitative", "scale": {"domain": [0, 60], "nice": false, "zero": false},
          "axis": {"orient": "right", "values": [0,10,20,30,40,50,60], "labelFontSize": 17, "tickSize": 4, "labelPadding": 7,
                   "title": "発酵槽温度（　）", "titleFontSize": 14, "titleAngle": 270, "titleX": 49, "titleY": 214, "titleAlign": "center", "titleBaseline": "middle"}},
    "color": {"datum": "発酵槽温度(上層)", "type": "nominal", "scale": {"domain": ["発電量合計","発酵槽温度(上層)","バイオガス流量","メタン濃度","ガスボイラーガス消費量","日バイオガス発生量"], "range": ["#00ff00","#ff0000","#000080","#800000","#800080","#ff00ff"]}},
    "shape": {"datum": "発酵槽温度(上層)", "type": "nominal", "scale": {"domain": ["発電量合計","発酵槽温度(上層)","バイオガス流量","メタン濃度","ガスボイラーガス消費量","日バイオガス発生量"], "range": ["M-0.5,-0.47H3.25V0.47H-0.5Z","M1.875,0A0.5,0.5,0,1,1,0.875,0A0.5,0.5,0,1,1,1.875,0Z","M-0.5,-0.13H3.25V0.13H-0.5Z","M-0.625,-0.22H1.625V0.22H-0.625ZM2.75,-0.22H3.125V0.22H2.75Z","M-0.5,-0.17H3.25V0.17H-0.5Z","M1.375,-0.55L1.94,0.45L0.81,0.45Z"]}}
   }
  }
 ],
 "resolve": {"scale": {"y": "independent"}, "axis": {"y": "independent"}}
}
